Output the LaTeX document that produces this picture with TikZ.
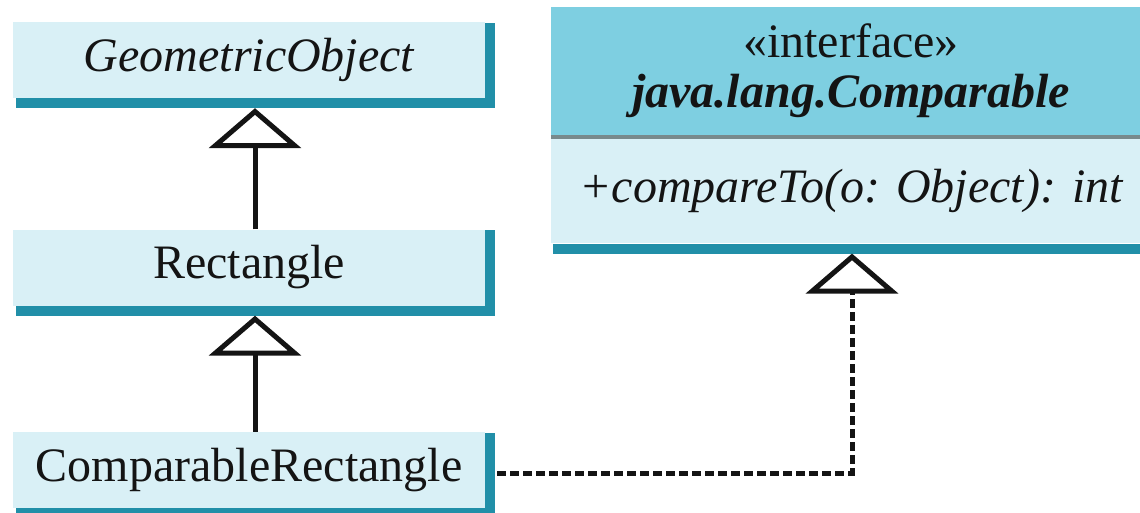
\documentclass[tikz,border=0pt]{standalone}
\usepackage{fontspec}
\setmainfont{Liberation Serif}
\usetikzlibrary{arrows.meta,backgrounds}
\definecolor{boxc}{RGB}{217,240,246}
\definecolor{shadc}{RGB}{33,143,168}
\definecolor{hdrc}{RGB}{126,207,225}
\definecolor{sepc}{RGB}{120,138,140}
\definecolor{inkc}{RGB}{20,20,20}
\begin{document}
\begin{tikzpicture}[x=1pt,y=1pt,
  cls/.style={fill=boxc, minimum width=472pt, minimum height=76pt, inner sep=0pt,
    text=inkc, font=\fontsize{48}{50}\selectfont},
  ibox/.style={minimum width=600pt, inner sep=0pt, text=inkc, align=center,
    font=\fontsize{48}{50}\selectfont},
  shad/.style={fill=shadc},
  inh/.style={line width=5pt, draw=inkc, -{Triangle[open, length=40pt, width=92pt, fill=white]}},
  real/.style={inh, dash pattern=on 9pt off 4pt}]
\useasboundingbox (0,0) rectangle (1140,-513);

% classes
\node[cls] (go) at (249,-60) {\itshape GeometricObject};
\node[cls] (rect) at (249,-267.5) {Rectangle};
\node[cls] (crect) at (249,-470) {ComparableRectangle};

% interface
\node[ibox, fill=hdrc, minimum height=128pt] (ihead) at (851,-71)
  {«interface»\\ \textbf{\itshape java.lang.Comparable}};
\node[ibox, fill=boxc, minimum height=104pt, anchor=north] (ibody) at ([yshift=-4pt]ihead.south)
  {\itshape +compareTo(o: Object): int};
\draw[sepc, line width=4pt] ([yshift=-2pt]ihead.south west) -- ([yshift=-2pt]ihead.south east);

% shadows
\begin{scope}[on background layer]
  \foreach \n in {go,rect,crect}{
    \fill[shad] ([xshift=3pt,yshift=-1pt]\n.north west) rectangle ([xshift=10pt,yshift=-10pt]\n.south east);
  }
  \fill[shad] ([xshift=2pt]ibody.south west) rectangle ([yshift=-10pt]ibody.south east);
\end{scope}

% connectors
\coordinate (tx) at (255,0);
\coordinate (ix) at (852,0);
\draw[inh] (rect.north -| tx) -- ([yshift=-10pt]go.south -| tx);
\draw[inh] (crect.north -| tx) -- ([yshift=-10pt]rect.south -| tx);
\draw[real] ([xshift=12pt,yshift=-3pt]crect.east) -| ([yshift=-10pt]ibody.south -| ix);
\end{tikzpicture}
\end{document}
